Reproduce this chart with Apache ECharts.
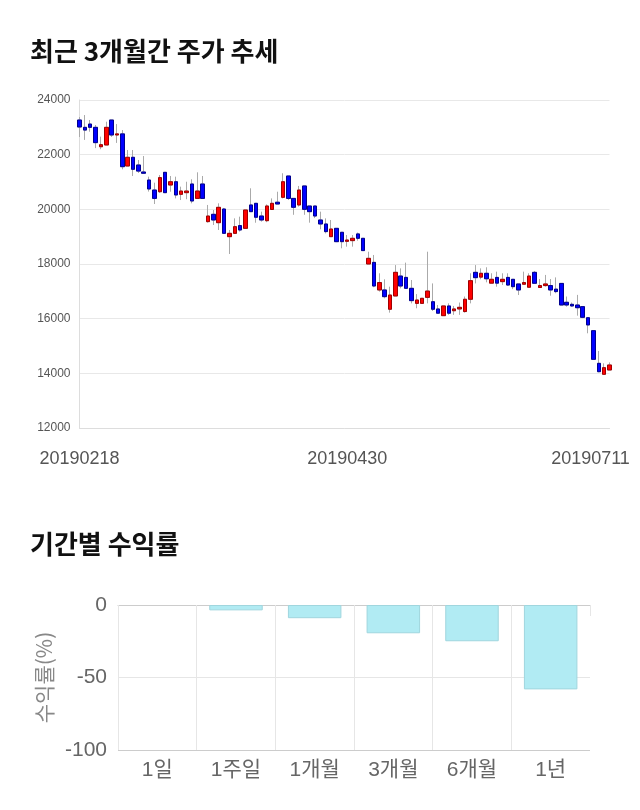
<!DOCTYPE html>
<html><head><meta charset="utf-8">
<script src="https://cdn.jsdelivr.net/npm/echarts@6/dist/echarts.min.js"></script>
<style>html,body{margin:0;padding:0;background:#fff}#c{width:640px;height:810px}</style>
</head><body><div id="c"></div>
<script>
const dates = ['20190218','20190219','20190220','20190221','20190222','20190225','20190226','20190227','20190228',
'20190304','20190305','20190306','20190307','20190308','20190311','20190312','20190313','20190314','20190315','20190318','20190319','20190320','20190321','20190322','20190325','20190326','20190327','20190328','20190329',
'20190401','20190402','20190403','20190404','20190405','20190408','20190409','20190410','20190411','20190412','20190415','20190416','20190417','20190418','20190419','20190422','20190423','20190424','20190425','20190426','20190429','20190430',
'20190502','20190503','20190507','20190508','20190509','20190510','20190513','20190514','20190515','20190516','20190517','20190520','20190521','20190522','20190523','20190524','20190527','20190528','20190529','20190530','20190531',
'20190603','20190604','20190605','20190607','20190610','20190611','20190612','20190613','20190614','20190617','20190618','20190619','20190620','20190621','20190624','20190625','20190626','20190627','20190628',
'20190701','20190702','20190703','20190704','20190705','20190708','20190709','20190710','20190711'];
const opens  = [23268,23000,23120,23000,22290,22354,23268,22720,22760,21585,21904,21622,21366,21073,20707,20645,21354,20890,21010,20550,20610,20927,20400,20927,19550,19818,19512,20012,19000,19122,19405,19305,20160,20220,19756,19585,19995,20260,20440,21220,20400,20160,20855,20122,20122,19610,19464,19000,19305,19160,18830,18855,19100,18940,18000,18060,17050,17050,16345,16830,17560,17510,17110,16560,16560,16780,16620,16355,16110,16465,16290,16355,16260,16710,17695,17520,17660,17300,17510,17355,17510,17440,17270,17260,17150,17695,17140,17210,17210,17080,17290,16600,16525,16500,16440,16035,15560,14366,13965,14122];
const closes = [23012,22900,23000,22440,22365,23000,22720,22760,21560,21904,21465,21400,21320,20744,20400,21160,20610,21010,20525,20670,20670,20305,20670,20400,19756,19610,20073,19122,19122,19366,19244,19976,19915,19710,19610,20122,20220,20195,21010,20400,20075,20707,20000,19915,19756,19464,19185,19280,18817,18817,18878,18940,18940,18490,18207,17195,17320,16805,16865,17695,17195,17110,16660,16683,16745,17010,16345,16200,16465,16200,16355,16415,16710,17390,17500,17660,17460,17440,17300,17440,17230,17170,17050,17320,17560,17295,17210,17270,17050,16990,16500,16500,16465,16400,16050,15770,14513,14060,14207,14305];
const lows   = [22646,22540,22840,22240,22200,22354,22650,22430,21465,21585,21220,21330,21320,20650,20195,20600,20600,20645,20400,20340,20370,20220,20400,20400,19512,19427,19244,19120,18366,19122,19185,19305,19915,19510,19550,19530,19976,20195,20400,20340,19800,20100,19800,19512,19680,19270,19120,19000,18800,18574,18635,18635,18855,18490,18000,17150,16990,16745,16220,16830,17110,17110,16560,16380,16560,16560,16280,16200,16110,16140,16140,16140,16220,16560,17290,17440,17330,17300,17170,17230,17200,17080,16865,17260,17150,17295,17140,17170,16840,16930,16500,16440,16440,16110,16020,15465,14513,14040,13965,14122];
const highs  = [23378,23450,23268,23085,22660,23206,23268,23120,22900,22171,22171,21805,21950,21195,20975,21256,21354,21220,21195,20830,21010,21100,21354,21220,20160,19976,20220,20050,19244,19670,19732,19976,20770,20220,19915,20180,20400,20645,21320,21220,20400,20855,20855,20122,20122,19915,19670,19610,19305,19160,19060,19060,19150,18940,18450,18330,17660,17440,17170,17960,17840,18050,17415,16900,16745,18450,17290,16500,16465,16560,16465,16590,16810,17660,17960,17840,17880,17660,17720,17660,17660,17440,17270,17720,17660,17745,17450,17600,17450,17510,17290,16810,16590,16870,16440,16035,15560,14817,14366,14400];
const priceTicks = {min: 12000, max: 24000, interval: 2000};

const periods = ['1일','1주일','1개월','3개월','6개월','1년'];
const returns = [0, -3.7, -9.1, -19.5, -25.0, -58.2];

const wickData = dates.map((d,i)=>[opens[i],closes[i],lows[i],highs[i]]);
const bodyData = dates.map((d,i)=>[opens[i],closes[i],Math.min(opens[i],closes[i]),Math.max(opens[i],closes[i])]);
const barData = returns.map(v => v === 0 ? {value: v, itemStyle: {borderWidth: 0}} : v);
const labelIdx = [0, 50, dates.length-1];

const chart = echarts.init(document.getElementById('c'));
const FONT = "'Liberation Sans','Noto Sans CJK KR',sans-serif";
const KR = "'Noto Sans CJK KR',sans-serif";
chart.setOption({
  animation: false,
  textStyle: {fontFamily: FONT},
  title: [
    {text: '최근 3개월간 주가 추세', left: 25, top: 33, textStyle: {fontSize: 26, fontWeight: 'bold', color: '#111', fontFamily: KR}},
    {text: '기간별 수익률', left: 25, top: 526, textStyle: {fontSize: 26, fontWeight: 'bold', color: '#111', fontFamily: KR}}
  ],
  grid: [
    {left: 79.5, right: 30.5, top: 100, bottom: 382},
    {left: 118, right: 50, top: 605, bottom: 60}
  ],
  xAxis: [
    {type: 'category', gridIndex: 0, data: dates, boundaryGap: false,
     axisLine: {lineStyle: {color: '#ddd'}}, axisTick: {show: false}, splitLine: {show: false},
     axisLabel: {interval: (i)=>labelIdx.indexOf(i) >= 0, fontSize: 18, color: '#555', margin: 22,
       formatter: (v,i)=> i === dates.length-1 ? '{r|'+v+'}' : v,
       rich: {r: {fontSize: 18, color: '#555', padding: [0,38,0,0]}}}},
    {type: 'category', gridIndex: 1, data: periods,
     axisLine: {lineStyle: {color: '#ccc'}}, axisTick: {show: true, length: 11, lineStyle: {color: '#e6e6e6'}},
     splitLine: {show: true, showMaxLine: false, lineStyle: {color: '#e6e6e6'}},
     axisLabel: {fontSize: 21, color: '#666', margin: 10}}
  ],
  yAxis: [
    {type: 'value', gridIndex: 0, min: priceTicks.min, max: priceTicks.max, interval: priceTicks.interval,
     axisLine: {show: true, lineStyle: {color: '#ddd'}}, axisTick: {show: false},
     splitLine: {lineStyle: {color: '#e8e8e8'}},
     axisLabel: {fontSize: 12, color: '#555', margin: 9, formatter: v => String(v)}},
    {type: 'value', gridIndex: 1, min: -100, max: 0, interval: 50,
     name: '수익률(%)', nameLocation: 'middle', nameGap: 62, nameRotate: 90,
     nameTextStyle: {fontSize: 21, color: '#888', fontFamily: KR},
     axisLine: {show: false}, axisTick: {show: false},
     splitLine: {lineStyle: {color: ['#ccc','#e6e6e6','#ccc']}},
     axisLabel: {fontSize: 21, color: '#666', margin: 11}}
  ],
  series: [
    {type: 'candlestick', xAxisIndex: 0, yAxisIndex: 0, data: wickData, barWidth: 4, clip: false,
     itemStyle: {color: '#ff0000', color0: '#0000ff', borderColor: '#aaa', borderColor0: '#aaa', borderColorDoji: '#aaa', borderWidth: 1}},
    {type: 'candlestick', xAxisIndex: 0, yAxisIndex: 0, data: bodyData, barWidth: 4, clip: false,
     itemStyle: {color: '#ff0000', color0: '#0000ff', borderColor: '#a00000', borderColor0: '#000090', borderColorDoji: '#a00000', borderWidth: 1}},
    {type: 'bar', xAxisIndex: 1, yAxisIndex: 1, data: barData, barWidth: '68%',
     itemStyle: {color: '#b1ebf3', borderColor: '#a0d6de', borderWidth: 1}}
  ]
});
</script></body></html>
